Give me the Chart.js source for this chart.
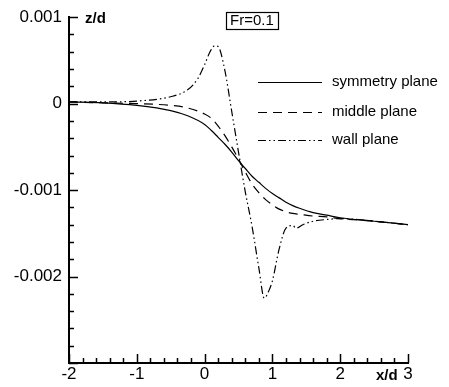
<!DOCTYPE html>
<html>
<head>
<meta charset="utf-8">
<script src="https://cdn.jsdelivr.net/npm/chart.js@4/dist/chart.umd.min.js"></script>
<style>
  html, body { margin: 0; padding: 0; background: #fff; }
  #wrap { width: 449px; height: 387px; }
</style>
</head>
<body>
<div id="wrap"><canvas id="c"></canvas></div>
<script>
// x/d sample positions shared by symmetry and middle plane
const planeX    = [-2, -1.5, -1, -0.5, -0.25, 0, 0.1, 0.2, 0.3, 0.4, 0.5, 0.6, 0.7, 0.8, 0.9, 1.0, 1.1, 1.2, 1.3, 1.4, 1.6, 1.8, 2.0, 2.5, 3.0];
const symmetryZ = [0.00002, 0.00001, -0.00002, -0.00008, -0.00014, -0.00024, -0.00031, -0.00039, -0.00047, -0.00056, -0.00066, -0.00075, -0.00084, -0.00091, -0.00098, -0.00104, -0.00109, -0.00114, -0.00118, -0.00121, -0.00126, -0.00129, -0.00132, -0.00136, -0.00140];
const middleZ   = [0.00002, 0.00001, 0.0, -0.00002, -0.00005, -0.00012, -0.00017, -0.00026, -0.00037, -0.00050, -0.00064, -0.00079, -0.00093, -0.00103, -0.00111, -0.00117, -0.00122, -0.00125, -0.00127, -0.00128, -0.00130, -0.00131, -0.00133, -0.00136, -0.00140];

// wall plane has sharper features, sampled separately
const wallX = [-2, -1.5, -1, -0.5, -0.25, -0.1, 0, 0.08, 0.15, 0.2, 0.3, 0.4, 0.5, 0.6, 0.7, 0.8, 0.88, 0.95, 1.0, 1.1, 1.2, 1.3, 1.35, 1.45, 1.6, 1.8, 2.0, 2.5, 3.0];
const wallZ = [0.00002, 0.00002, 0.00003, 0.00008, 0.00016, 0.00029, 0.00045, 0.00060, 0.00067, 0.00066, 0.00038, -0.00009, -0.00056, -0.00102, -0.00142, -0.00190, -0.00225, -0.00216, -0.00205, -0.00168, -0.00144, -0.00141, -0.00144, -0.00140, -0.00136, -0.00134, -0.00133, -0.00136, -0.00140];

const xTickValues = [-2, -1, 0, 1, 2, 3];
const yTickValues = [0.001, 0, -0.001, -0.002];
const yTickLabels = ['0.001', '0', '-0.001', '-0.002'];

const seriesNames = ['symmetry plane', 'middle plane', 'wall plane'];

const FONT = '"Liberation Sans", Arial, sans-serif';

const toPoints = (xs, ys) => xs.map((x, i) => ({ x, y: ys[i] }));

// inward ticks, major + minor, drawn from the scales
const innerTicks = {
  id: 'innerTicks',
  afterDraw(chart) {
    const { ctx, chartArea, scales } = chart;
    ctx.save();
    ctx.strokeStyle = '#000';
    ctx.lineWidth = 1.5;
    ctx.beginPath();
    for (let i = 0; i <= 20; i++) {
      const v = -0.003 + i * 0.0002;
      const y = Math.round(scales.y.getPixelForValue(v)) + 0.5;
      const len = i % 5 === 0 ? 9 : 5;
      ctx.moveTo(chartArea.left, y);
      ctx.lineTo(chartArea.left + len, y);
    }
    for (let i = 0; i <= 25; i++) {
      const v = -2 + i * 0.2;
      const x = Math.round(scales.x.getPixelForValue(v)) + 0.5;
      const len = i % 5 === 0 ? 9 : 5;
      ctx.moveTo(x, chartArea.bottom);
      ctx.lineTo(x, chartArea.bottom - len);
    }
    ctx.stroke();
    ctx.restore();
  }
};

// axis titles, Fr box and line-style legend
const annotations = {
  id: 'annotations',
  afterDraw(chart) {
    const { ctx, chartArea } = chart;
    ctx.save();
    ctx.fillStyle = '#000';
    ctx.textBaseline = 'middle';

    ctx.font = 'bold 15px ' + FONT;
    ctx.textAlign = 'left';
    ctx.fillText('z/d', chartArea.left + 16, 19);
    ctx.fillText('x/d', 376, 376);

    ctx.font = '15px ' + FONT;
    ctx.fillText('Fr=0.1', 230, 21);
    ctx.lineWidth = 1.2;
    ctx.strokeRect(226.5, 12.5, 52, 17);

    ctx.font = '15px ' + FONT;
    const rows = [82, 112, 140];
    chart.data.datasets.forEach((ds, i) => {
      ctx.beginPath();
      ctx.setLineDash(ds.borderDash || []);
      ctx.lineWidth = ds.borderWidth;
      ctx.strokeStyle = '#000';
      ctx.moveTo(258, rows[i] + 0.5);
      ctx.lineTo(322, rows[i] + 0.5);
      ctx.stroke();
      ctx.setLineDash([]);
      ctx.fillText(ds.label, 332, rows[i]);
    });
    ctx.restore();
  }
};

const common = {
  borderColor: '#000',
  borderWidth: 1.2,
  pointRadius: 0,
  fill: false,
  cubicInterpolationMode: 'monotone',
};

new Chart(document.getElementById('c'), {
  type: 'line',
  data: {
    datasets: [
      { ...common, label: seriesNames[0], data: toPoints(planeX, symmetryZ) },
      { ...common, label: seriesNames[1], data: toPoints(planeX, middleZ), borderDash: [9, 6] },
      { ...common, label: seriesNames[2], data: toPoints(wallX, wallZ), borderDash: [8, 3, 1.5, 3, 1.5, 3] },
    ],
  },
  options: {
    animation: false,
    responsive: true,
    maintainAspectRatio: false,
    devicePixelRatio: 1,
    layout: { padding: { top: 12, right: 41, left: 0, bottom: 0 } },
    plugins: {
      legend:  { display: false },
      tooltip: { enabled: false },
    },
    scales: {
      x: {
        type: 'linear',
        min: -2, max: 3,
        afterFit: (s) => { s.height = 24; },
        afterBuildTicks: (s) => { s.ticks = xTickValues.map(v => ({ value: v })); },
        ticks: {
          color: '#000', padding: 1, maxRotation: 0,
          font: { size: 17, family: FONT },
          callback: (v) => String(v),
        },
        grid:   { display: true, drawOnChartArea: false, drawTicks: false },
        border: { display: true, color: '#000', width: 2 },
      },
      y: {
        type: 'linear',
        min: -0.003, max: 0.001,
        afterFit: (s) => { s.width = 69; },
        afterBuildTicks: (s) => { s.ticks = yTickValues.map(v => ({ value: v })); },
        ticks: {
          color: '#000', padding: 7,
          font: { size: 17, family: FONT },
          callback: (v) => {
            const i = yTickValues.findIndex(t => Math.abs(t - v) < 1e-9);
            return i >= 0 ? yTickLabels[i] : '';
          },
        },
        grid:   { display: true, drawOnChartArea: false, drawTicks: false },
        border: { display: true, color: '#000', width: 2 },
      },
    },
  },
  plugins: [innerTicks, annotations],
});
</script>
</body>
</html>
